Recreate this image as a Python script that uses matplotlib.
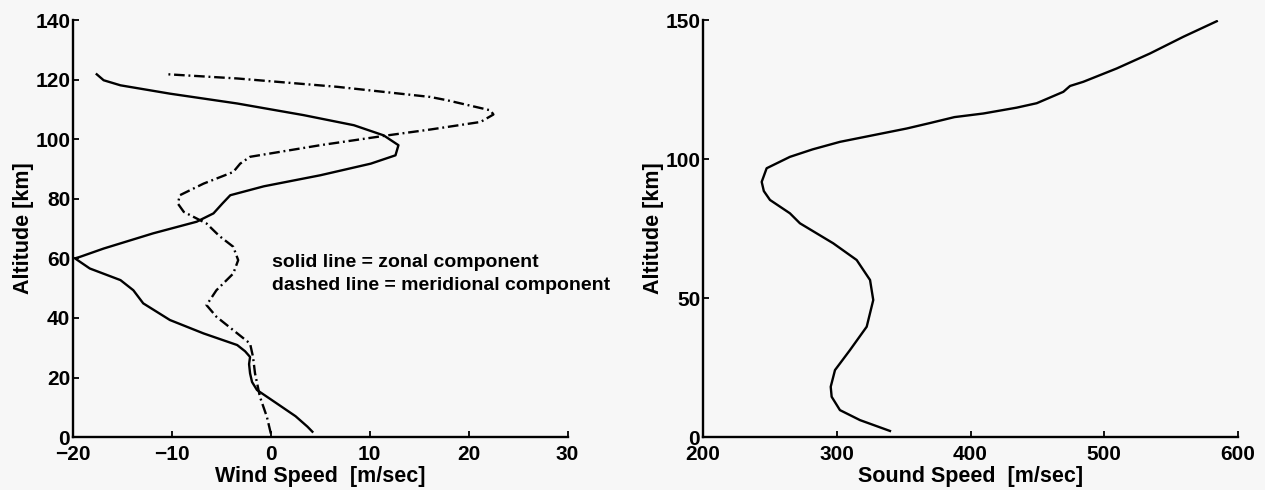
import matplotlib
matplotlib.use("Agg")
import matplotlib.pyplot as plt

plt.rcParams['font.family'] = ['Liberation Sans', 'DejaVu Sans']

# zonal wind (solid)
zonal_alt = [1.8, 3.5, 7, 11.3, 15.8, 18.5, 21.4, 24.5, 26.9, 28.8, 30.9,
             34.8, 39.3, 44.9, 49.3, 52.7, 56.6, 60.0, 60.5, 63.3, 68.4,
             72.3, 75.1, 78.4, 81.2, 84.2, 87.9, 91.8, 94.6, 98.0, 101.3,
             104.7, 108.1, 112.0, 115.3, 118.1, 119.8, 121.8]
zonal_speed = [4.2, 3.7, 2.5, 0.6, -1.4, -1.9, -2.1, -2.2, -2.1, -2.6, -3.4,
               -6.8, -10.2, -12.9, -13.9, -15.2, -18.3, -19.8, -19.3, -16.9,
               -11.9, -7.5, -5.8, -4.9, -4.1, -0.7, 5.0, 10.1, 12.6, 12.9,
               11.4, 8.4, 3.3, -3.4, -10.2, -15.2, -16.9, -17.6]

# meridional wind (dash-dot)
merid_alt = [1.2, 6.8, 13.5, 21.4, 26.9, 31.4, 35.9, 40.4, 44.3, 49.3, 54.9,
             59.4, 63.9, 67.5, 71.7, 75.6, 78.4, 81.2, 85.1, 89.0, 91.8, 94.1,
             98.0, 101.3, 103.3, 105.8, 108.3, 109.7, 113.1, 114.2, 117.6,
             120.4, 121.8]
merid_speed = [0.0, -0.4, -1.1, -1.6, -1.8, -2.1, -3.8, -5.5, -6.5, -5.5,
               -3.8, -3.3, -3.8, -5.2, -6.5, -8.8, -9.4, -9.2, -6.8, -3.8,
               -3.1, -2.1, 5.0, 11.8, 16.2, 21.2, 22.5, 22.2, 17.8, 16.1,
               6.7, -3.4, -10.4]

# sound speed, right panel
sound_alt = [2.2, 6.1, 9.7, 14.5, 18.1, 24.1, 31.3, 39.7, 49.3, 56.5, 63.7,
             69.7, 76.9, 80.5, 85.3, 88.5, 91.8, 96.7, 100.8, 103.5, 106.2,
             111.0, 113.0, 115.1, 116.4, 118.5, 120.1, 124.2, 126.3, 127.8,
             132.6, 138.0, 144.0, 149.6]
sound_speed = [339.8, 317.4, 302.4, 296.2, 295.5, 298.7, 309.9, 322.4, 327.3,
               324.9, 314.9, 297.4, 272.5, 265.0, 250.1, 245.5, 243.9, 247.6,
               265.0, 282.0, 302.4, 352.3, 370.0, 388.0, 409.6, 434.5, 449.5,
               469.4, 474.4, 484.3, 509.3, 534.2, 559.1, 584.1]

wind_ticks = [-20, -10, 0, 10, 20, 30]
alt_ticks_left = [0, 20, 40, 60, 80, 100, 120, 140]
sound_ticks = [200, 300, 400, 500, 600]
alt_ticks_right = [0, 50, 100, 150]

bg = '#f7f7f7'
fig = plt.figure(figsize=(12.65, 4.9), dpi=100, facecolor=bg)
ax1 = fig.add_axes([0.0577, 0.108, 0.391, 0.851], facecolor=bg)
ax2 = fig.add_axes([0.5557, 0.108, 0.423, 0.851], facecolor=bg)


def style(ax):
    for s in ('top', 'right'):
        ax.spines[s].set_visible(False)
    for s in ('left', 'bottom'):
        ax.spines[s].set_linewidth(1.7)
    ax.tick_params(direction='in', length=4, width=1.3, labelsize=15)
    ax.tick_params(axis='x', pad=6)
    ax.tick_params(axis='y', pad=2)
    for lab in ax.get_xticklabels() + ax.get_yticklabels():
        lab.set_fontweight('bold')


ax1.plot(zonal_speed, zonal_alt, color='black', lw=1.7)
ax1.plot(merid_speed, merid_alt, color='black', lw=1.7,
         linestyle=(0, (4.5, 1.6, 0.8, 1.6)))
ax1.set_xlim(-20, 30)
ax1.set_ylim(0, 140)
ax1.set_xticks(wind_ticks)
ax1.set_yticks(alt_ticks_left)
ax1.set_xlabel('Wind Speed  [m/sec]', fontsize=15.5, fontweight='bold', labelpad=1)
ax1.set_ylabel('Altitude [km]', fontsize=15.5, fontweight='bold', labelpad=1)
ax1.text(0.14, 54.7, 'solid line = zonal component\ndashed line = meridional component',
         fontsize=14, fontweight='bold', va='center', ha='left', linespacing=1.45)
style(ax1)

ax2.plot(sound_speed, sound_alt, color='black', lw=1.7)
ax2.set_xlim(200, 600)
ax2.set_ylim(0, 150)
ax2.set_xticks(sound_ticks)
ax2.set_yticks(alt_ticks_right)
ax2.set_xlabel('Sound Speed  [m/sec]', fontsize=15.5, fontweight='bold', labelpad=1)
ax2.set_ylabel('Altitude [km]', fontsize=15.5, fontweight='bold', labelpad=1)
style(ax2)

fig.savefig('out.png', dpi=100, facecolor=bg)
